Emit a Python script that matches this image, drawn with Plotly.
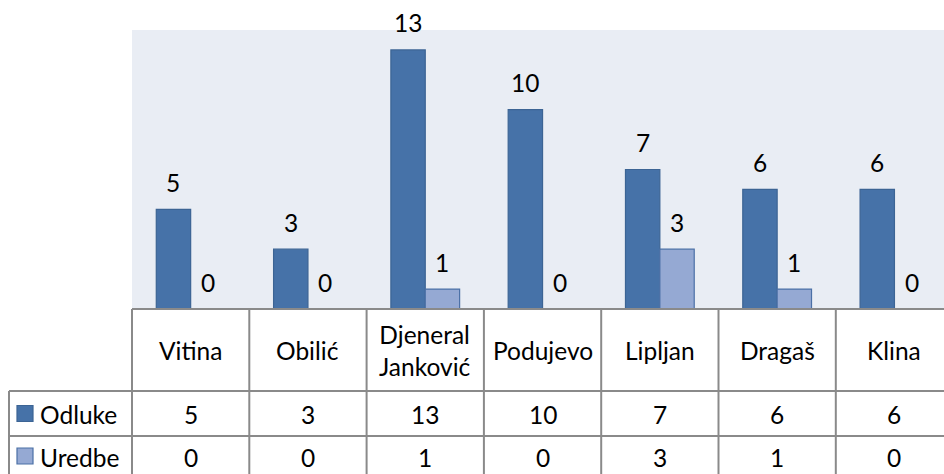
import plotly.graph_objects as go

categories = ["Vitina", "Obilić", "Djeneral<br>Janković", "Podujevo", "Lipljan", "Dragaš", "Klina"]
series_names = ["Odluke", "Uredbe"]
odluke = [5, 3, 13, 10, 7, 6, 6]
uredbe = [0, 0, 1, 0, 3, 1, 0]

W, H = 944, 474
FONT = "Lato"
FS = 24.5
fill_colors = ["#4672A8", "#95A9D3"]
line_colors = ["#3C6494", "#4B70A6"]
grid = "#8A8A8A"

def px(xpix):
    return xpix / W

def py(ypix):
    return 1 - ypix / H

plot_left, plot_top, plot_bottom = 132, 30, 309
cat_w = 117.3
x_end = -0.5 + (W - plot_left) / cat_w
bw = 0.293

idx = list(range(len(categories)))
fig = go.Figure()
for k, (name, vals) in enumerate(zip(series_names, [odluke, uredbe])):
    fig.add_trace(go.Bar(
        x=idx, y=vals, name=name, width=bw, offset=-bw if k == 0 else 0,
        marker=dict(color=fill_colors[k], line=dict(color=line_colors[k], width=1.2)),
        showlegend=False, hoverinfo="x+y",
    ))

ann = []
shapes = []
# bar value labels
for k, vals in enumerate([odluke, uredbe]):
    off = -bw / 2 if k == 0 else bw / 2
    for i, v in zip(idx, vals):
        ann.append(dict(x=i + off, y=v, xref="x", yref="y", text=str(v), showarrow=False,
                        yshift=27, font=dict(family=FONT, size=FS, color="black")))

# table geometry (pixels)
row_hdr_bot, row1_bot, row2_bot = 391, 436, 484
leg_left = 9

# vertical lines of category columns
for i in range(1, len(categories) + 1):
    shapes.append(dict(type="line", xref="x", yref="paper", x0=i - 0.5, x1=i - 0.5,
                       y0=py(plot_bottom), y1=py(row2_bot), line=dict(color=grid, width=2)))
# legend column lines
shapes.append(dict(type="line", xref="paper", yref="paper", x0=px(leg_left), x1=px(leg_left),
                   y0=py(row_hdr_bot), y1=py(row2_bot), line=dict(color=grid, width=2)))
shapes.append(dict(type="line", xref="paper", yref="paper", x0=px(plot_left), x1=px(plot_left),
                   y0=py(plot_bottom), y1=py(row2_bot), line=dict(color=grid, width=2)))
# horizontal lines
shapes.append(dict(type="line", xref="paper", yref="paper", x0=px(plot_left), x1=1,
                   y0=py(plot_bottom), y1=py(plot_bottom), line=dict(color=grid, width=2)))
for yy in (row_hdr_bot, row1_bot):
    shapes.append(dict(type="line", xref="paper", yref="paper", x0=px(leg_left), x1=1,
                       y0=py(yy), y1=py(yy), line=dict(color=grid, width=2)))

# header labels
for i, c in zip(idx, categories):
    ann.append(dict(x=i, y=py((plot_bottom + row_hdr_bot) / 2), xref="x", yref="paper", text=c,
                    showarrow=False, font=dict(family=FONT, size=FS, color="black"),
                    yanchor="middle"))
# value rows
row_centers = [(row_hdr_bot + row1_bot) / 2 + 1, 457]
for k, vals in enumerate([odluke, uredbe]):
    for i, v in zip(idx, vals):
        ann.append(dict(x=i, y=py(row_centers[k]), xref="x", yref="paper", text=str(v),
                        showarrow=False, font=dict(family=FONT, size=FS, color="black"),
                        yanchor="middle"))
    # legend key
    yc = row_centers[k] - 1
    shapes.append(dict(type="rect", xref="paper", yref="paper", x0=px(17), x1=px(33),
                       y0=py(yc - 8), y1=py(yc + 8), fillcolor=fill_colors[k],
                       line=dict(color=line_colors[k], width=1.2)))
    ann.append(dict(x=px(38), y=py(row_centers[k]), xref="paper", yref="paper",
                    text=series_names[k], showarrow=False, xanchor="left", yanchor="middle",
                    font=dict(family=FONT, size=FS, color="black")))

fig.update_layout(
    width=W, height=H, autosize=False,
    margin=dict(l=0, r=0, t=0, b=0, pad=0),
    paper_bgcolor="white", plot_bgcolor="#E9EDF4",
    barmode="group",
    xaxis=dict(domain=[px(plot_left), 1], range=[-0.5, x_end], showticklabels=False,
               showgrid=False, zeroline=False, ticks="", fixedrange=True),
    yaxis=dict(domain=[py(plot_bottom), py(plot_top)], range=[0, 14], showticklabels=False,
               showgrid=False, zeroline=False, ticks="", fixedrange=True),
    annotations=ann, shapes=shapes,
)

fig.write_html("out.html", config={"displayModeBar": False},
               post_script="document.body.style.margin='0';document.body.style.overflow='hidden';")
